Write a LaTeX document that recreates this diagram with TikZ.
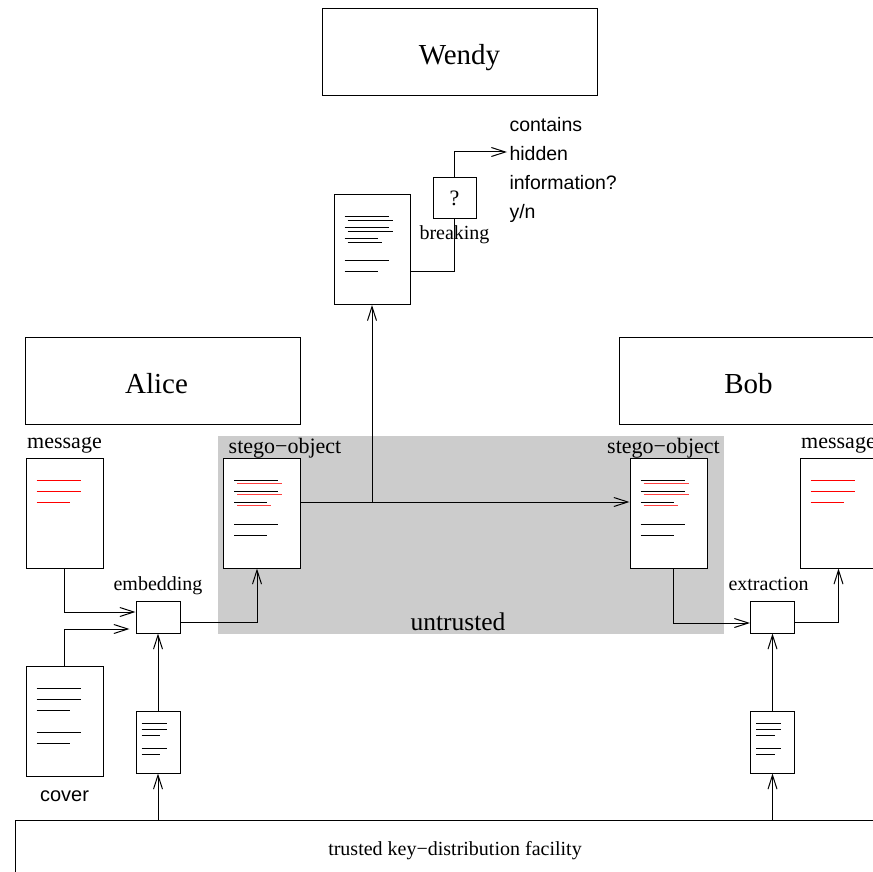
\documentclass[tikz,border=0pt]{standalone}
\usepackage{fontspec}
\setmainfont{Liberation Serif}
\newfontfamily\helv{Liberation Sans}
\usetikzlibrary{positioning,arrows.meta}

% lines of text on a sheet: node, scale, colour
\newcommand{\textlines}[3]{%
  \begin{scope}[shift={(#1.north west)}, scale=#2]
    \draw[#3] (11,22.5) -- +(44,0) (11,33.5) -- +(44,0) (11,44.5) -- +(33,0);
  \end{scope}}
\newcommand{\morelines}[2]{%
  \begin{scope}[shift={(#1.north west)}, scale=#2]
    \draw (11,66.5) -- +(44,0) (11,77.5) -- +(33,0);
  \end{scope}}
\newcommand{\hiddenlines}[2]{%
  \begin{scope}[shift={(#1.north west)}]
    \draw[#2] (14,26) -- +(45,0) (14,37) -- +(45,0) (14,48) -- +(34,0);
  \end{scope}}

\begin{document}
\begin{tikzpicture}[x=1pt, y=-1pt, line width=1pt]
\tikzset{
    >={Straight Barb[length=14pt, width=9pt]},
    box/.style = {draw, inner sep=0pt},
    party/.style = {box, minimum width=275pt, minimum height=87pt, text height=25pt, text depth=0pt, font=\fontsize{29}{34}\selectfont},
    doc/.style = {box, fill=white, minimum width=77pt, minimum height=110pt},
    keydoc/.style = {box, fill=white, minimum width=44pt, minimum height=62pt},
    tool/.style = {box, fill=white, minimum width=44pt, minimum height=32pt},
    lbl/.style = {inner sep=0pt, anchor=base, font=\fontsize{22}{26}\selectfont},
    note/.style = {inner sep=0pt, anchor=base, font=\fontsize{20}{24}\selectfont}
}
\useasboundingbox (0,0) rectangle (873,872);
\clip (0,0) rectangle (873,872);

% -------------------------------------------------------
\node[fill=black!20, inner sep=0pt, minimum width=506pt, minimum height=198pt] (channel) at (471,535) {};
\node[note, font=\fontsize{25.5}{30}\selectfont] (untrusted) at (458,630) {untrusted};

\node[party] (wendy) at (459.5,52) {Wendy};
\node[party] (alice) at (163,380.5) {Alice\hspace*{13pt}};
\node[party] (bob) at (756.5,380.5) {Bob\hspace*{16pt}};

\node[doc] (msgA) at (64.5,513) {};
\node[doc] (cover) at (64.5,721.5) {};
\node[doc] (stegoA) at (262,513) {};
\node[doc] (stegoB) at (668.5,513) {};
\node[doc] (msgB) at (838.5,513) {};
\node[doc, minimum width=76pt] (seen) at (372,249.5) {};
\node[keydoc] (keyA) at (158,742) {};
\node[keydoc] (keyB) at (772.5,742) {};

\textlines{msgA}{1}{red}
\textlines{msgB}{1}{red}
\textlines{cover}{1}{black}\morelines{cover}{1}
\textlines{stegoA}{1}{black}\hiddenlines{stegoA}{red!75}\morelines{stegoA}{1}
\textlines{stegoB}{1}{black}\hiddenlines{stegoB}{red!75}\morelines{stegoB}{1}
\textlines{seen}{1}{black}\hiddenlines{seen}{black}\morelines{seen}{1}
\textlines{keyA}{.565}{black}\morelines{keyA}{.565}
\textlines{keyB}{.565}{black}\morelines{keyB}{.565}

\node[tool] (embed) at (158,617) {};
\node[tool] (extract) at (772.5,617) {};
\node[box, minimum width=43pt, minimum height=40pt, font=\fontsize{22}{26}\selectfont] (query) at (454.5,198) {?};

\node[box, minimum width=880pt, minimum height=62pt, font=\fontsize{20}{24}\selectfont] (facility) at (455,851) {trusted key−distribution facility};

% labels
\node[lbl] (msgAtxt) at ([yshift=9pt]msgA.north) {message};
\node[lbl] (msgBtxt) at ([yshift=9pt]msgB.north) {message};
\node[lbl] (stegoAtxt) at ([xshift=23pt, yshift=4pt]stegoA.north) {stego−object};
\node[lbl] (stegoBtxt) at ([xshift=-5pt, yshift=4pt]stegoB.north) {stego−object};
\node[note] (embedtxt) at ([yshift=10pt]embed.north) {embedding};
\node[note] (extracttxt) at ([xshift=-4pt, yshift=10pt]extract.north) {extraction};
\node[note] (breaking) at ([yshift=-21pt]query.south) {breaking};
\node[note, font=\helv\fontsize{20}{24}\selectfont] (covertxt) at ([yshift=-24pt]cover.south) {cover};
\node[anchor=north west, align=left, inner sep=0pt, font=\helv\fontsize{19.5}{29}\selectfont] (verdict) at (509,116.5) {contains\\hidden\\information?\\y/n};

% -------------------------------------------------------
\coordinate (tap) at (372,502);
\coordinate (hint) at (507,152);

\draw[->] ([yshift=11pt]stegoA.east) -- ([yshift=11pt]stegoB.west);
\draw[->] (tap) -- (seen.south);
\draw ([yshift=-21.5pt]seen.east) -| (query.south);
\draw[->] (query.north) |- (hint);

\draw[->] (msgA.south) |- ([yshift=5pt]embed.west);
\draw[->] (cover.north) |- ([xshift=-6pt, yshift=-12pt]embed.west);
\draw[->] ([yshift=-5.5pt]embed.east) -| ([xshift=-5pt]stegoA.south);
\draw[->] (keyA.north) -- (embed.south);
\draw[->] (facility.north -| keyA.south) -- (keyA.south);

\draw[->] ([xshift=5pt]stegoB.south) |- ([yshift=-6pt]extract.west);
\draw[->] ([yshift=-5.5pt]extract.east) -| (msgB.south);
\draw[->] (keyB.north) -- (extract.south);
\draw[->] (facility.north -| keyB.south) -- (keyB.south);
\end{tikzpicture}
\end{document}
